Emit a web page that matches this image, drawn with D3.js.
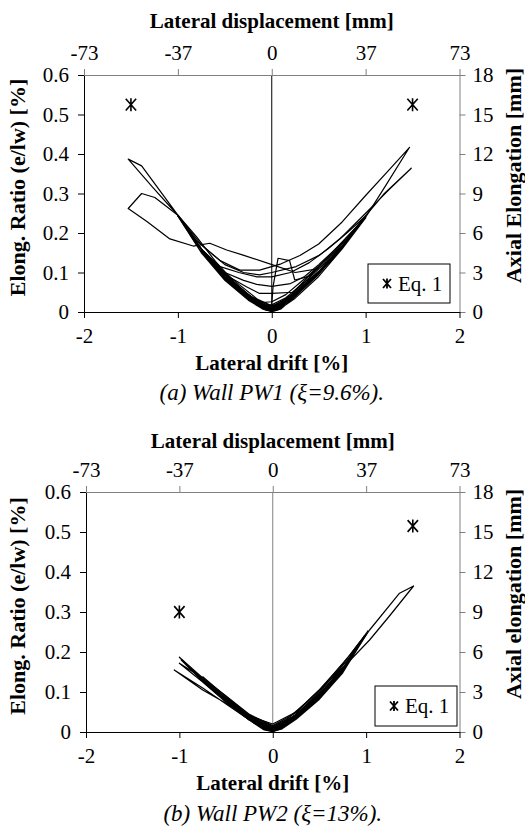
<!DOCTYPE html>
<html>
<head>
<meta charset="utf-8">
<script src="https://cdn.jsdelivr.net/npm/d3@7"></script>
<style>
html,body{margin:0;padding:0;background:#fff;}
</style>
</head>
<body>
<svg id="chart" width="525" height="828"></svg>
<script>
// ---------- data ----------
const driftTicks = [-2, -1, 0, 1, 2];
const driftTickLabels = ["-2", "-1", "0", "1", "2"];
const displacementTickLabels = ["-73", "-37", "0", "37", "73"];
const ratioTicks = [0, 0.1, 0.2, 0.3, 0.4, 0.5, 0.6];
const ratioTickLabels = ["0", "0.1", "0.2", "0.3", "0.4", "0.5", "0.6"];
const elongTicks = [0, 3, 6, 9, 12, 15, 18];

// PW1 cycles: [lateral drift %, elongation ratio %]
const pw1CycleA = [[0,0.002],[0.05,0.004],[0.1,0.01],[0.05,0.008],[0,0.004],[-0.05,0.004],[-0.1,0.009],[-0.05,0.005],[0,0.002]];
const pw1CycleB = [[0,0.003],[0.1,0.012],[0.25,0.042],[0.15,0.026],[0.05,0.01],[0,0.006],[-0.1,0.01],[-0.25,0.034],[-0.15,0.017],[-0.05,0.006],[0,0.003]];
const pw1CycleC = [[0,0.005],[0.1,0.015],[0.25,0.046],[0.15,0.03],[0.05,0.014],[0,0.009],[-0.1,0.013],[-0.25,0.038],[-0.15,0.022],[-0.05,0.01],[0,0.006]];
const pw1CycleD = [[0,0.006],[0.1,0.014],[0.25,0.044],[0.5,0.098],[0.35,0.07],[0.2,0.036],[0.1,0.018],[0,0.01],[-0.1,0.012],[-0.25,0.035],[-0.5,0.084],[-0.35,0.054],[-0.2,0.025],[-0.1,0.012],[0,0.006]];
const pw1CycleE = [[0,0.008],[0.1,0.017],[0.25,0.048],[0.5,0.102],[0.35,0.075],[0.2,0.042],[0.1,0.024],[0,0.015],[-0.1,0.016],[-0.25,0.04],[-0.5,0.088],[-0.35,0.06],[-0.2,0.03],[-0.1,0.016],[0,0.009]];
const pw1CycleF = [[0,0.008],[0.1,0.016],[0.25,0.045],[0.5,0.1],[0.75,0.164],[0.55,0.12],[0.35,0.076],[0.15,0.036],[0,0.018],[-0.1,0.018],[-0.25,0.038],[-0.5,0.086],[-0.75,0.154],[-0.55,0.105],[-0.35,0.064],[-0.15,0.026],[0,0.012]];
const pw1CycleG = [[0,0.012],[0.1,0.02],[0.25,0.048],[0.5,0.103],[0.75,0.168],[0.55,0.127],[0.35,0.084],[0.15,0.044],[0,0.026],[-0.1,0.024],[-0.25,0.043],[-0.5,0.09],[-0.75,0.158],[-0.55,0.111],[-0.35,0.07],[-0.15,0.032],[0,0.016]];
const pw1CycleH = [[0,0.016],[0.1,0.02],[0.25,0.046],[0.5,0.1],[0.75,0.165],[1.0,0.24],[0.8,0.19],[0.6,0.14],[0.4,0.092],[0.23,0.05],[0,0.047],[-0.13,0.047],[-0.27,0.064],[-0.5,0.095],[-0.75,0.16],[-1.0,0.245],[-0.8,0.19],[-0.6,0.128],[-0.4,0.076],[-0.2,0.034],[0,0.014]];
const pw1CycleI = [[0,0.014],[0.25,0.047],[0.5,0.1],[0.75,0.165],[0.97,0.233],[0.75,0.175],[0.5,0.12],[0.35,0.09],[0.2,0.072],[0,0.065],[-0.16,0.07],[-0.3,0.08],[-0.5,0.1],[-0.75,0.158],[-1.0,0.243],[-0.75,0.16],[-0.5,0.098],[-0.3,0.052],[-0.1,0.02],[0,0.01]];
const pw1CycleJ = [[0,0.02],[0.014,0.064],[0.067,0.136],[0.19,0.13],[0.245,0.081],[0.4,0.09],[0.6,0.135],[0.8,0.185],[1.0,0.243],[0.8,0.2],[0.6,0.16],[0.4,0.125],[0.2,0.1],[0,0.089],[-0.16,0.089],[-0.35,0.1],[-0.55,0.115],[-0.8,0.17],[-1.0,0.243],[-0.8,0.172],[-0.5,0.094],[-0.25,0.04],[0,0.008]];
const pw1CycleK = [[0,0.006],[0.25,0.045],[0.5,0.1],[0.75,0.165],[1.0,0.24],[1.2,0.315],[1.468,0.417],[1.25,0.36],[1.0,0.295],[0.75,0.228],[0.5,0.172],[0.3,0.143],[0.1,0.122],[-0.13,0.106],[-0.34,0.106],[-0.55,0.13],[-0.8,0.18],[-1.0,0.245],[-1.27,0.316],[-1.529,0.387],[-1.386,0.37],[-1.2,0.31],[-1.0,0.245],[-0.75,0.16],[-0.5,0.09],[-0.25,0.036],[0,0.004]];
const pw1CycleL = [[0,0.01],[0.25,0.05],[0.5,0.1],[0.75,0.168],[0.97,0.235],[1.2,0.3],[1.486,0.364],[1.25,0.31],[1.0,0.25],[0.72,0.184],[0.51,0.144],[0.26,0.115],[0,0.1],[-0.13,0.094],[-0.3,0.1],[-0.5,0.12],[-0.75,0.17],[-1.0,0.245],[-1.245,0.29],[-1.386,0.3],[-1.529,0.262],[-1.33,0.229],[-1.085,0.185],[-0.837,0.167],[-0.66,0.174],[-0.48,0.157],[-0.305,0.144],[0.05,0.116],[0.25,0.1],[0.5,0.11]];
const pw1CycleM = [[0,0.001],[0.1,0.008],[0.25,0.04],[0.5,0.097],[0.75,0.162],[1.0,0.238],[0.75,0.16],[0.5,0.09],[0.25,0.035],[0.1,0.01],[0,0.002],[-0.1,0.008],[-0.25,0.033],[-0.5,0.083],[-0.75,0.152],[-1.0,0.243],[-0.75,0.15],[-0.5,0.08],[-0.25,0.03],[-0.1,0.008],[0,0.001]];
const pw1CycleN = [[0,0.004],[0.1,0.012],[0.25,0.043],[0.5,0.099],[0.75,0.166],[0.5,0.095],[0.25,0.04],[0.1,0.014],[0,0.005],[-0.1,0.011],[-0.25,0.036],[-0.5,0.087],[-0.75,0.157],[-0.5,0.084],[-0.25,0.033],[-0.1,0.01],[0,0.003]];
const pw1Eq1 = [[-1.5, 0.525], [1.5, 0.525]];

// PW2 cycles
const pw2CycleA = [[0,0.002],[0.1,0.009],[0.05,0.005],[0,0.003],[-0.1,0.007],[-0.05,0.004],[0,0.002]];
const pw2CycleB = [[0,0.003],[0.1,0.01],[0.25,0.035],[0.15,0.018],[0,0.006],[-0.1,0.009],[-0.25,0.034],[-0.15,0.016],[0,0.004]];
const pw2CycleC = [[0,0.005],[0.1,0.013],[0.25,0.04],[0.15,0.023],[0,0.01],[-0.1,0.013],[-0.25,0.039],[-0.15,0.02],[0,0.006]];
const pw2CycleD = [[0,0.004],[0.1,0.011],[0.25,0.036],[0.5,0.086],[0.35,0.058],[0.2,0.027],[0.05,0.008],[0,0.006],[-0.1,0.011],[-0.25,0.036],[-0.5,0.08],[-0.35,0.05],[-0.2,0.022],[-0.05,0.006],[0,0.004]];
const pw2CycleE = [[0,0.006],[0.1,0.015],[0.25,0.042],[0.5,0.092],[0.35,0.065],[0.2,0.034],[0.05,0.013],[0,0.01],[-0.1,0.015],[-0.25,0.041],[-0.5,0.086],[-0.35,0.056],[-0.2,0.028],[-0.05,0.01],[0,0.006]];
const pw2CycleF = [[0,0.004],[0.25,0.037],[0.5,0.086],[0.75,0.155],[0.55,0.108],[0.35,0.064],[0.15,0.025],[0,0.01],[-0.25,0.037],[-0.5,0.082],[-0.75,0.132],[-0.55,0.092],[-0.35,0.055],[-0.15,0.018],[0,0.004]];
const pw2CycleG = [[0,0.007],[0.25,0.042],[0.5,0.092],[0.75,0.162],[0.55,0.116],[0.35,0.072],[0.15,0.032],[0,0.014],[-0.25,0.042],[-0.5,0.088],[-0.75,0.138],[-0.55,0.098],[-0.35,0.061],[-0.15,0.024],[0,0.007]];
const pw2CycleH = [[0,0.005],[0.25,0.036],[0.5,0.085],[0.75,0.152],[1.02,0.253],[0.8,0.18],[0.5,0.1],[0.25,0.043],[0,0.012],[-0.25,0.04],[-0.5,0.085],[-0.75,0.135],[-1.0,0.187],[-0.75,0.13],[-0.5,0.076],[-0.25,0.03],[0,0.004]];
const pw2CycleI = [[0,0.006],[0.25,0.04],[0.5,0.09],[0.75,0.158],[1.0,0.245],[0.8,0.185],[0.5,0.104],[0.25,0.048],[0,0.016],[-0.25,0.044],[-0.5,0.09],[-0.75,0.135],[-1.0,0.172],[-0.75,0.125],[-0.5,0.074],[-0.25,0.03],[0,0.006]];
const pw2CycleJ = [[0,0.008],[0.25,0.044],[0.5,0.094],[0.75,0.16],[0.98,0.24],[0.75,0.17],[0.5,0.106],[0.25,0.05],[0,0.02],[-0.25,0.04],[-0.5,0.072],[-0.75,0.105],[-1.055,0.155],[-0.75,0.11],[-0.5,0.07],[-0.25,0.03],[0,0.008]];
const pw2CycleK = [[0,0.007],[0.25,0.037],[0.5,0.088],[0.75,0.155],[1.037,0.255],[1.358,0.347],[1.508,0.365],[1.25,0.29],[1.037,0.23],[0.75,0.16],[0.5,0.095],[0.25,0.04],[0,0.01],[-0.25,0.038],[-0.5,0.084],[-0.75,0.13],[-0.97,0.18],[-0.75,0.128],[-0.5,0.08],[-0.25,0.032],[0,0.004]];
const pw2CycleL = [[0,0.001],[0.1,0.008],[0.25,0.034],[0.5,0.083],[0.75,0.15],[1.0,0.243],[0.75,0.148],[0.5,0.082],[0.25,0.032],[0.1,0.008],[0,0.002],[-0.1,0.008],[-0.25,0.033],[-0.5,0.078],[-0.75,0.128],[-0.98,0.18],[-0.75,0.126],[-0.5,0.076],[-0.25,0.03],[-0.1,0.006],[0,0.001]];
const pw2Eq1 = [[-1.0, 0.30], [1.5, 0.515]];

const pw1Cycles = [pw1CycleA,pw1CycleB,pw1CycleC,pw1CycleD,pw1CycleE,pw1CycleF,pw1CycleG,pw1CycleH,pw1CycleI,pw1CycleJ,pw1CycleK,pw1CycleL,pw1CycleM,pw1CycleN];
const pw2Cycles = [pw2CycleA,pw2CycleB,pw2CycleC,pw2CycleD,pw2CycleE,pw2CycleF,pw2CycleG,pw2CycleH,pw2CycleI,pw2CycleJ,pw2CycleK,pw2CycleL];

// ---------- drawing ----------
const FONT = "'Liberation Serif', 'Times New Roman', Times, Tinos, 'Nimbus Roman', FreeSerif, 'Noto Serif', 'DejaVu Serif', serif";
const svg = d3.select("#chart").attr("font-family", FONT);

function asterisk(g, x, y, s, w) {
  const h = s / 2;
  g.append("path")
    .attr("d", `M${x-h*0.8},${y-h*0.9}L${x+h*0.8},${y+h*0.9}M${x+h*0.8},${y-h*0.9}L${x-h*0.8},${y+h*0.9}M${x},${y-h}L${x},${y+h}`)
    .attr("stroke", "#000").attr("stroke-width", w).attr("fill", "none");
}

function panel(cfg) {
  const x = d3.scaleLinear().domain([-2, 2]).range([cfg.left, cfg.right]);
  const y = d3.scaleLinear().domain([0, 0.6]).range([cfg.bottom, cfg.top]);
  const y2 = d3.scaleLinear().domain([0, 18]).range([cfg.bottom, cfg.top]);
  const g = svg.append("g").attr("font-family", FONT);

  g.append("line").attr("x1", x(0)).attr("x2", x(0)).attr("y1", y(0)).attr("y2", y(0.6))
    .attr("stroke", cfg.zeroColor).attr("stroke-width", 1);

  const line = d3.line().x(d => x(d[0])).y(d => y(d[1]));
  g.append("g").selectAll("path").data(cfg.cycles).join("path")
    .attr("d", line).attr("fill", "none").attr("stroke", "#000").attr("stroke-width", 1.2)
    .attr("stroke-linejoin", "round");

  const fs = 21;
  const axL = g.append("g").attr("transform", `translate(${cfg.left},0)`)
    .call(d3.axisLeft(y).tickValues(ratioTicks).tickSize(6).tickSizeOuter(0).tickPadding(9)
      .tickFormat((d, i) => ratioTickLabels[i]));
  const axR = g.append("g").attr("transform", `translate(${cfg.right},0)`)
    .call(d3.axisRight(y2).tickValues(elongTicks).tickSize(6).tickSizeOuter(0).tickPadding(7));
  const axB = g.append("g").attr("transform", `translate(0,${cfg.bottom})`)
    .call(d3.axisBottom(x).tickValues(driftTicks).tickSize(6).tickSizeOuter(0).tickPadding(10)
      .tickFormat((d, i) => driftTickLabels[i]));
  const axT = g.append("g").attr("transform", `translate(0,${cfg.top})`)
    .call(d3.axisTop(x).tickValues(driftTicks).tickSize(6).tickSizeOuter(0).tickPadding(9)
      .tickFormat((d, i) => displacementTickLabels[i]));
  [axL, axB].forEach(a => { a.selectAll("path,line").attr("stroke", cfg.mainAxis); });
  [axR, axT].forEach(a => { a.selectAll("path,line").attr("stroke", "#808080"); });
  [axL, axR, axB, axT].forEach(a => {
    a.attr("font-family", FONT).attr("font-size", fs);
    a.selectAll("text").attr("fill", "#000");
  });

  g.append("text").attr("x", x(0)).attr("y", cfg.topTitleY).attr("text-anchor", "middle")
    .attr("font-size", 21).attr("font-weight", "bold").text("Lateral displacement [mm]");
  g.append("text").attr("x", x(0)).attr("y", cfg.bottomTitleY).attr("text-anchor", "middle")
    .attr("font-size", 21).attr("font-weight", "bold").text("Lateral drift [%]");
  g.append("text").attr("x", x(0)).attr("y", cfg.captionY).attr("text-anchor", "middle")
    .attr("font-size", 23).attr("font-style", "italic").text(cfg.caption);
  const cy = (cfg.top + cfg.bottom) / 2;
  g.append("text").attr("transform", `translate(${cfg.leftTitleX},${cy - 6}) rotate(-90)`)
    .attr("text-anchor", "middle").attr("dy", "0.35em")
    .attr("font-size", 22).attr("font-weight", "bold").text("Elong. Ratio (e/lw)  [%]");
  g.append("text").attr("transform", `translate(${cfg.rightTitleX},${cy - 18}) rotate(-90)`)
    .attr("text-anchor", "middle").attr("dy", "0.35em")
    .attr("font-size", 22).attr("font-weight", "bold").text(cfg.rightTitle);

  cfg.eq1.forEach(p => asterisk(g, x(p[0]), y(p[1]), 13, 1.6));

  const lg = cfg.legend;
  g.append("rect").attr("x", lg.x).attr("y", lg.y).attr("width", lg.w).attr("height", lg.h)
    .attr("fill", "#fff").attr("stroke", "#000").attr("stroke-width", 1);
  asterisk(g, lg.x + 19, lg.y + lg.h / 2, 10, 1.8);
  g.append("text").attr("x", lg.x + 30).attr("y", lg.y + lg.h / 2).attr("dy", "0.35em")
    .attr("font-size", 21).text("Eq. 1");
}

panel({
  left: 84, right: 459.5, top: 75, bottom: 312,
  cycles: pw1Cycles, eq1: pw1Eq1, zeroColor: "#000", mainAxis: "#000",
  topTitleY: 28, bottomTitleY: 370, captionY: 400,
  caption: "(a) Wall PW1 (ξ=9.6%).",
  leftTitleX: 17, rightTitleX: 513, rightTitle: "Axial Elongation [mm]",
  legend: { x: 368, y: 264, w: 82, h: 39 }
});

panel({
  left: 86, right: 459.5, top: 492, bottom: 732,
  cycles: pw2Cycles, eq1: pw2Eq1, zeroColor: "#808080", mainAxis: "#000",
  topTitleY: 448, bottomTitleY: 790, captionY: 821,
  caption: "(b) Wall PW2 (ξ=13%).",
  leftTitleX: 17, rightTitleX: 513, rightTitle: "Axial elongation [mm]",
  legend: { x: 375, y: 686, w: 82, h: 40 }
});
</script>
</body>
</html>
